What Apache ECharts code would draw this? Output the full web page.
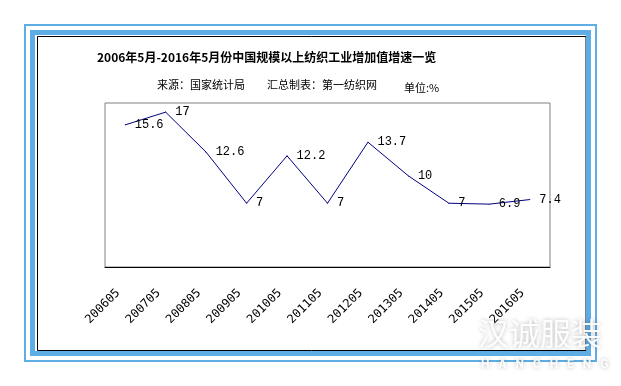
<!DOCTYPE html>
<html>
<head>
<meta charset="utf-8">
<script src="https://cdn.jsdelivr.net/npm/echarts@6/dist/echarts.min.js"></script>
<style>html,body{margin:0;padding:0;background:#fff;}#c{width:621px;height:386px;}</style>
</head>
<body>
<div id="c"></div>
<script>
var categories = ['200605','200705','200805','200905','201005','201105','201205','201305','201405','201505','201605'];
var growth = [15.6, 17, 12.6, 7, 12.2, 7, 13.7, 10, 7, 6.9, 7.4];
var titleText = '2006年5月-2016年5月份中国规模以上纺织工业增加值增速一览';
var sourceText = '来源：国家统计局';
var makerText = '汇总制表：第一纺织网';
var unitText = '单位:%';

var blue = '#5FADE5';
var cjk = '"Noto Sans CJK SC", sans-serif';
var chart = echarts.init(document.getElementById('c'));
chart.setOption({
  backgroundColor: '#fff',
  animation: false,
  grid: { left: 105, right: 71, top: 103, bottom: 119, show: true, borderColor: '#808080', borderWidth: 1, backgroundColor: '#fff' },
  xAxis: {
    type: 'category', data: categories, boundaryGap: true,
    axisLine: { lineStyle: { color: '#000', width: 1 } },
    axisTick: { inside: true, length: 4, lineStyle: { color: '#000' } },
    axisLabel: { rotate: 45, interval: 0, margin: 17, padding: [0, 10, 0, 0], color: '#000', fontFamily: '"DejaVu Sans Mono", monospace', fontSize: 12 },
    splitLine: { show: false }
  },
  yAxis: {
    type: 'value', min: 0, max: 18,
    axisLine: { show: false }, axisTick: { show: false }, axisLabel: { show: false }, splitLine: { show: false }
  },
  series: [{
    type: 'line', data: growth,
    symbol: 'circle', symbolSize: 1, showSymbol: true,
    itemStyle: { color: '#000080' },
    lineStyle: { color: '#000080', width: 1 },
    label: { show: true, position: 'right', distance: 9, color: '#000', fontFamily: '"Liberation Mono", monospace', fontSize: 12 }
  }],
  graphic: [
    { type: 'rect', shape: { x: 37.5, y: 36.5, width: 548.5, height: 314 }, style: { fill: null, stroke: '#000', lineWidth: 1 } },
    { type: 'rect', shape: { x: 32.5, y: 32.5, width: 556, height: 321 }, style: { fill: null, stroke: blue, lineWidth: 5 } },
    { type: 'rect', shape: { x: 25, y: 25, width: 571, height: 336 }, style: { fill: null, stroke: blue, lineWidth: 2 } },
    { type: 'text', left: 97, top: 51, style: { text: titleText, font: 'bold 12px ' + cjk, fill: '#000' } },
    { type: 'text', left: 157, top: 79, style: { text: sourceText, font: '11px ' + cjk, fill: '#000' } },
    { type: 'text', left: 267, top: 79, style: { text: makerText, font: '11px ' + cjk, fill: '#000' } },
    { type: 'text', left: 404, top: 82, style: { text: unitText, font: '11px ' + cjk, fill: '#000' } },
    { type: 'text', left: 478, top: 318, style: { text: '汉诚服装', font: '31px ' + cjk, fill: 'rgba(255,255,255,0.95)', textShadowColor: 'rgba(0,0,0,0.3)', textShadowBlur: 4 } },
    { type: 'text', left: 481, top: 359, style: { text: 'H   A   N   C   H   E   N   G', font: 'bold 12px Roboto, sans-serif', fill: 'rgba(255,255,255,0.95)', textShadowColor: 'rgba(0,0,0,0.3)', textShadowBlur: 4 } }
  ]
});
</script>
</body>
</html>
